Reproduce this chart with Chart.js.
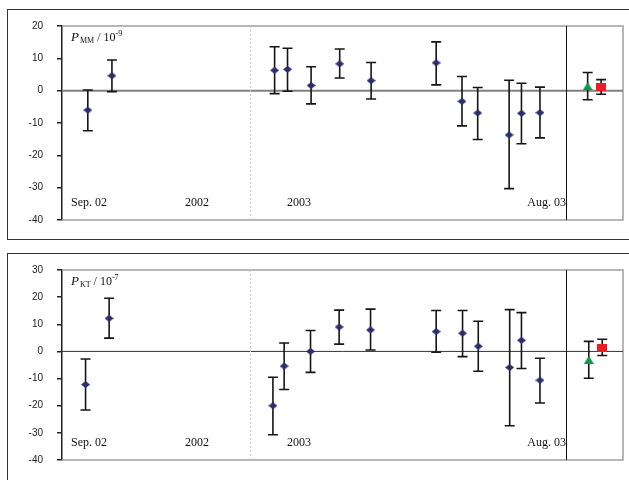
<!DOCTYPE html>
<html>
<head>
<meta charset="utf-8">
<script src="https://cdn.jsdelivr.net/npm/chart.js@4.4.0/dist/chart.umd.min.js"></script>
<style>
  html, body { margin: 0; padding: 0; background: #fff; }
  body { width: 629px; height: 480px; position: relative; overflow: hidden; }
  .box { position: absolute; left: 7px; width: 640px; border: 1.5px solid #333; box-sizing: border-box; }
  .wrap { position: absolute; left: 0; width: 629px; }
</style>
</head>
<body>
<div class="box" style="top:9px;height:231px"></div>
<div class="box" style="top:253px;height:260px"></div>
<div class="wrap" style="top:0;height:240px"><canvas id="js-top"></canvas></div>
<div class="wrap" style="top:245px;height:235px"><canvas id="js-bottom"></canvas></div>
<script>
"use strict";

// 横軸の位置（任意単位 0-100）
const xTop = [4.6, 8.9, 37.9, 40.2, 44.4, 49.5, 55.1, 66.7, 71.3, 74.1, 79.7, 81.9, 85.2];
const xBottom = [4.2, 8.4, 37.6, 39.6, 44.3, 49.4, 55.0, 66.7, 71.4, 74.2, 79.8, 81.9, 85.2];

// P_MM / 10^-9
const mmValues = [-6.0, 4.6, 6.3, 6.6, 1.6, 8.3, 3.1, 8.6, -3.3, -6.9, -13.7, -7.0, -6.8];
const mmLow = [-12.4, -0.3, -0.9, -0.2, -4.1, 3.9, -2.6, 1.8, -10.9, -15.1, -30.3, -16.4, -14.6];
const mmHigh = [0.2, 9.5, 13.6, 13.1, 7.4, 12.9, 8.7, 15.1, 4.4, 1.0, 3.2, 2.3, 1.1];
const mmTriangle = { x: 93.7, y: 1.4, low: -2.8, high: 5.6 };
const mmSquare = { x: 96.1, y: 1.1, low: -1.1, high: 3.4 };

// P_KT / 10^-7
const ktValues = [-12.2, 12.2, -20.0, -5.4, 0.0, 9.0, 7.9, 7.3, 6.7, 1.9, -5.9, 4.1, -10.6];
const ktLow = [-21.6, 4.9, -30.7, -14.0, -7.7, 2.7, 0.5, -0.3, -1.9, -7.3, -27.4, -6.3, -19.0];
const ktHigh = [-2.8, 19.6, -9.5, 3.1, 7.7, 15.2, 15.6, 15.1, 15.1, 11.1, 15.4, 14.3, -2.5];
const ktTriangle = { x: 93.9, y: -3.1, low: -9.9, high: 3.7 };
const ktSquare = { x: 96.3, y: 1.3, low: -1.5, high: 4.5 };

const periodLabels = ["Sep. 02", "2002", "2003", "Aug. 03"];

// マーカー画像
function makeMarker(kind, color) {
  const c = document.createElement("canvas");
  const w = kind === "diamond" ? 9 : 10;
  const h = kind === "diamond" ? 7 : 8;
  c.width = w; c.height = h;
  const g = c.getContext("2d");
  g.fillStyle = color;
  g.beginPath();
  if (kind === "diamond") {
    g.moveTo(w / 2, 0); g.lineTo(w, h / 2); g.lineTo(w / 2, h); g.lineTo(0, h / 2);
  } else if (kind === "triangle") {
    g.moveTo(w / 2, 0); g.lineTo(w, h); g.lineTo(0, h);
  } else {
    g.rect(0, 0, w, h);
  }
  g.closePath();
  g.fill();
  return c;
}
const diamond = makeMarker("diamond", "#2b2d6e");
const triangle = makeMarker("triangle", "#0a9a48");
const square = makeMarker("square", "#ee1c24");

// エラーバー + 枠 + 区切り線
const decorPlugin = {
  id: "decor",
  beforeDatasetsDraw(chart, args, opts) {
    const { ctx, chartArea: a, scales } = chart;
    const xs = scales.x, ys = scales.y;
    ctx.save();
    // 枠
    ctx.strokeStyle = "#a0a0a0";
    ctx.lineWidth = 1.5;
    ctx.beginPath();
    ctx.moveTo(a.left, a.top); ctx.lineTo(a.right, a.top); ctx.lineTo(a.right, a.bottom); ctx.lineTo(a.left, a.bottom);
    ctx.stroke();
    // ゼロ線
    ctx.strokeStyle = opts.zeroColor;
    ctx.lineWidth = opts.zeroWidth;
    ctx.beginPath();
    ctx.moveTo(a.left, ys.getPixelForValue(0)); ctx.lineTo(a.right, ys.getPixelForValue(0));
    ctx.stroke();
    // 2002/2003 区切り
    ctx.strokeStyle = "#c8c8c8";
    ctx.lineWidth = 1;
    ctx.setLineDash([2, 2]);
    let px = Math.round(xs.getPixelForValue(33.5)) + 0.5;
    ctx.beginPath(); ctx.moveTo(px, a.top); ctx.lineTo(px, a.bottom); ctx.stroke();
    ctx.setLineDash([]);
    ctx.strokeStyle = "#111";
    px = Math.round(xs.getPixelForValue(89.8)) + 0.5;
    ctx.beginPath(); ctx.moveTo(px, a.top); ctx.lineTo(px, a.bottom); ctx.stroke();
    // エラーバー
    ctx.strokeStyle = "#151515";
    ctx.lineWidth = 1.6;
    chart.data.datasets.forEach((ds) => {
      ds.data.forEach((p) => {
        const x = xs.getPixelForValue(p.x);
        const y1 = ys.getPixelForValue(p.low);
        const y2 = ys.getPixelForValue(p.high);
        ctx.beginPath();
        ctx.moveTo(x, y1); ctx.lineTo(x, y2);
        ctx.moveTo(x - 5, y1); ctx.lineTo(x + 5, y1);
        ctx.moveTo(x - 5, y2); ctx.lineTo(x + 5, y2);
        ctx.stroke();
      });
    });
    // 期間ラベル
    ctx.fillStyle = "#111";
    ctx.font = "12px 'Liberation Serif', 'Times New Roman', serif";
    ctx.textBaseline = "alphabetic";
    const ty = a.bottom - 14;
    ctx.textAlign = "left";
    ctx.fillText(periodLabels[0], a.left + 9, ty);
    ctx.textAlign = "center";
    ctx.fillText(periodLabels[1], a.left + 135, ty);
    ctx.fillText(periodLabels[2], a.left + 237, ty);
    ctx.textAlign = "right";
    ctx.fillText(periodLabels[3], a.left + 504, ty);
    // 縦軸タイトル
    ctx.textAlign = "left";
    let tx = a.left + 9;
    const by = a.top + 15;
    const parts = [
      ["italic 13px 'Liberation Serif', serif", "P", 0],
      ["8px 'Liberation Serif', serif", opts.sub, 2],
      ["12px 'Liberation Serif', serif", " / 10", 0],
      ["8px 'Liberation Serif', serif", opts.sup, -5],
    ];
    parts.forEach(([f, t, dy]) => {
      ctx.font = f;
      ctx.fillText(t, tx, by + dy);
      tx += ctx.measureText(t).width + (t === "P" ? 1 : 0);
    });
    ctx.restore();
  },
};

function buildPoints(xArr, vals, low, high) {
  return vals.map((v, i) => ({ x: xArr[i], y: v, low: low[i], high: high[i] }));
}

function createPanel(id, cfg) {
  const ctx = document.getElementById(id).getContext("2d");
  return new Chart(ctx, {
    type: "scatter",
    data: {
      datasets: [
        { data: cfg.points, pointStyle: diamond, pointRadius: 5 },
        { data: [cfg.tri], pointStyle: triangle, pointRadius: 5 },
        { data: [cfg.sq], pointStyle: square, pointRadius: 5 },
      ],
    },
    options: {
      responsive: true,
      maintainAspectRatio: false,
      animation: false,
      layout: { padding: { top: cfg.padTop, right: 3, bottom: cfg.padBottom, left: 0 } },
      scales: {
        x: { type: "linear", display: false, min: 0, max: 100 },
        y: {
          min: cfg.min,
          max: cfg.max,
          afterFit: (scale) => { scale.width = 62; },
          border: { display: true, color: "#222", width: 1.5 },
          grid: { display: true, drawOnChartArea: false, drawTicks: true, tickLength: 5, color: "#222", lineWidth: 1.5 },
          ticks: {
            stepSize: 10,
            padding: 14,
            color: "#222",
            font: { family: "'Liberation Sans', Arial, sans-serif", size: 10 },
          },
        },
      },
      plugins: {
        legend: { display: false },
        tooltip: { enabled: false },
        decor: { sub: cfg.sub, sup: cfg.sup, zeroColor: cfg.zeroColor, zeroWidth: cfg.zeroWidth },
      },
    },
    plugins: [decorPlugin],
  });
}

createPanel("js-top", {
  points: buildPoints(xTop, mmValues, mmLow, mmHigh),
  tri: mmTriangle,
  sq: mmSquare,
  min: -40, max: 20,
  padTop: 26, padBottom: 18,
  sub: "MM", sup: "-9",
  zeroColor: "#808080", zeroWidth: 2,
});

createPanel("js-bottom", {
  points: buildPoints(xBottom, ktValues, ktLow, ktHigh),
  tri: ktTriangle,
  sq: ktSquare,
  min: -40, max: 30,
  padTop: 25, padBottom: 13,
  sub: "KT", sup: "-7",
  zeroColor: "#333", zeroWidth: 1,
});
</script>
</body>
</html>
